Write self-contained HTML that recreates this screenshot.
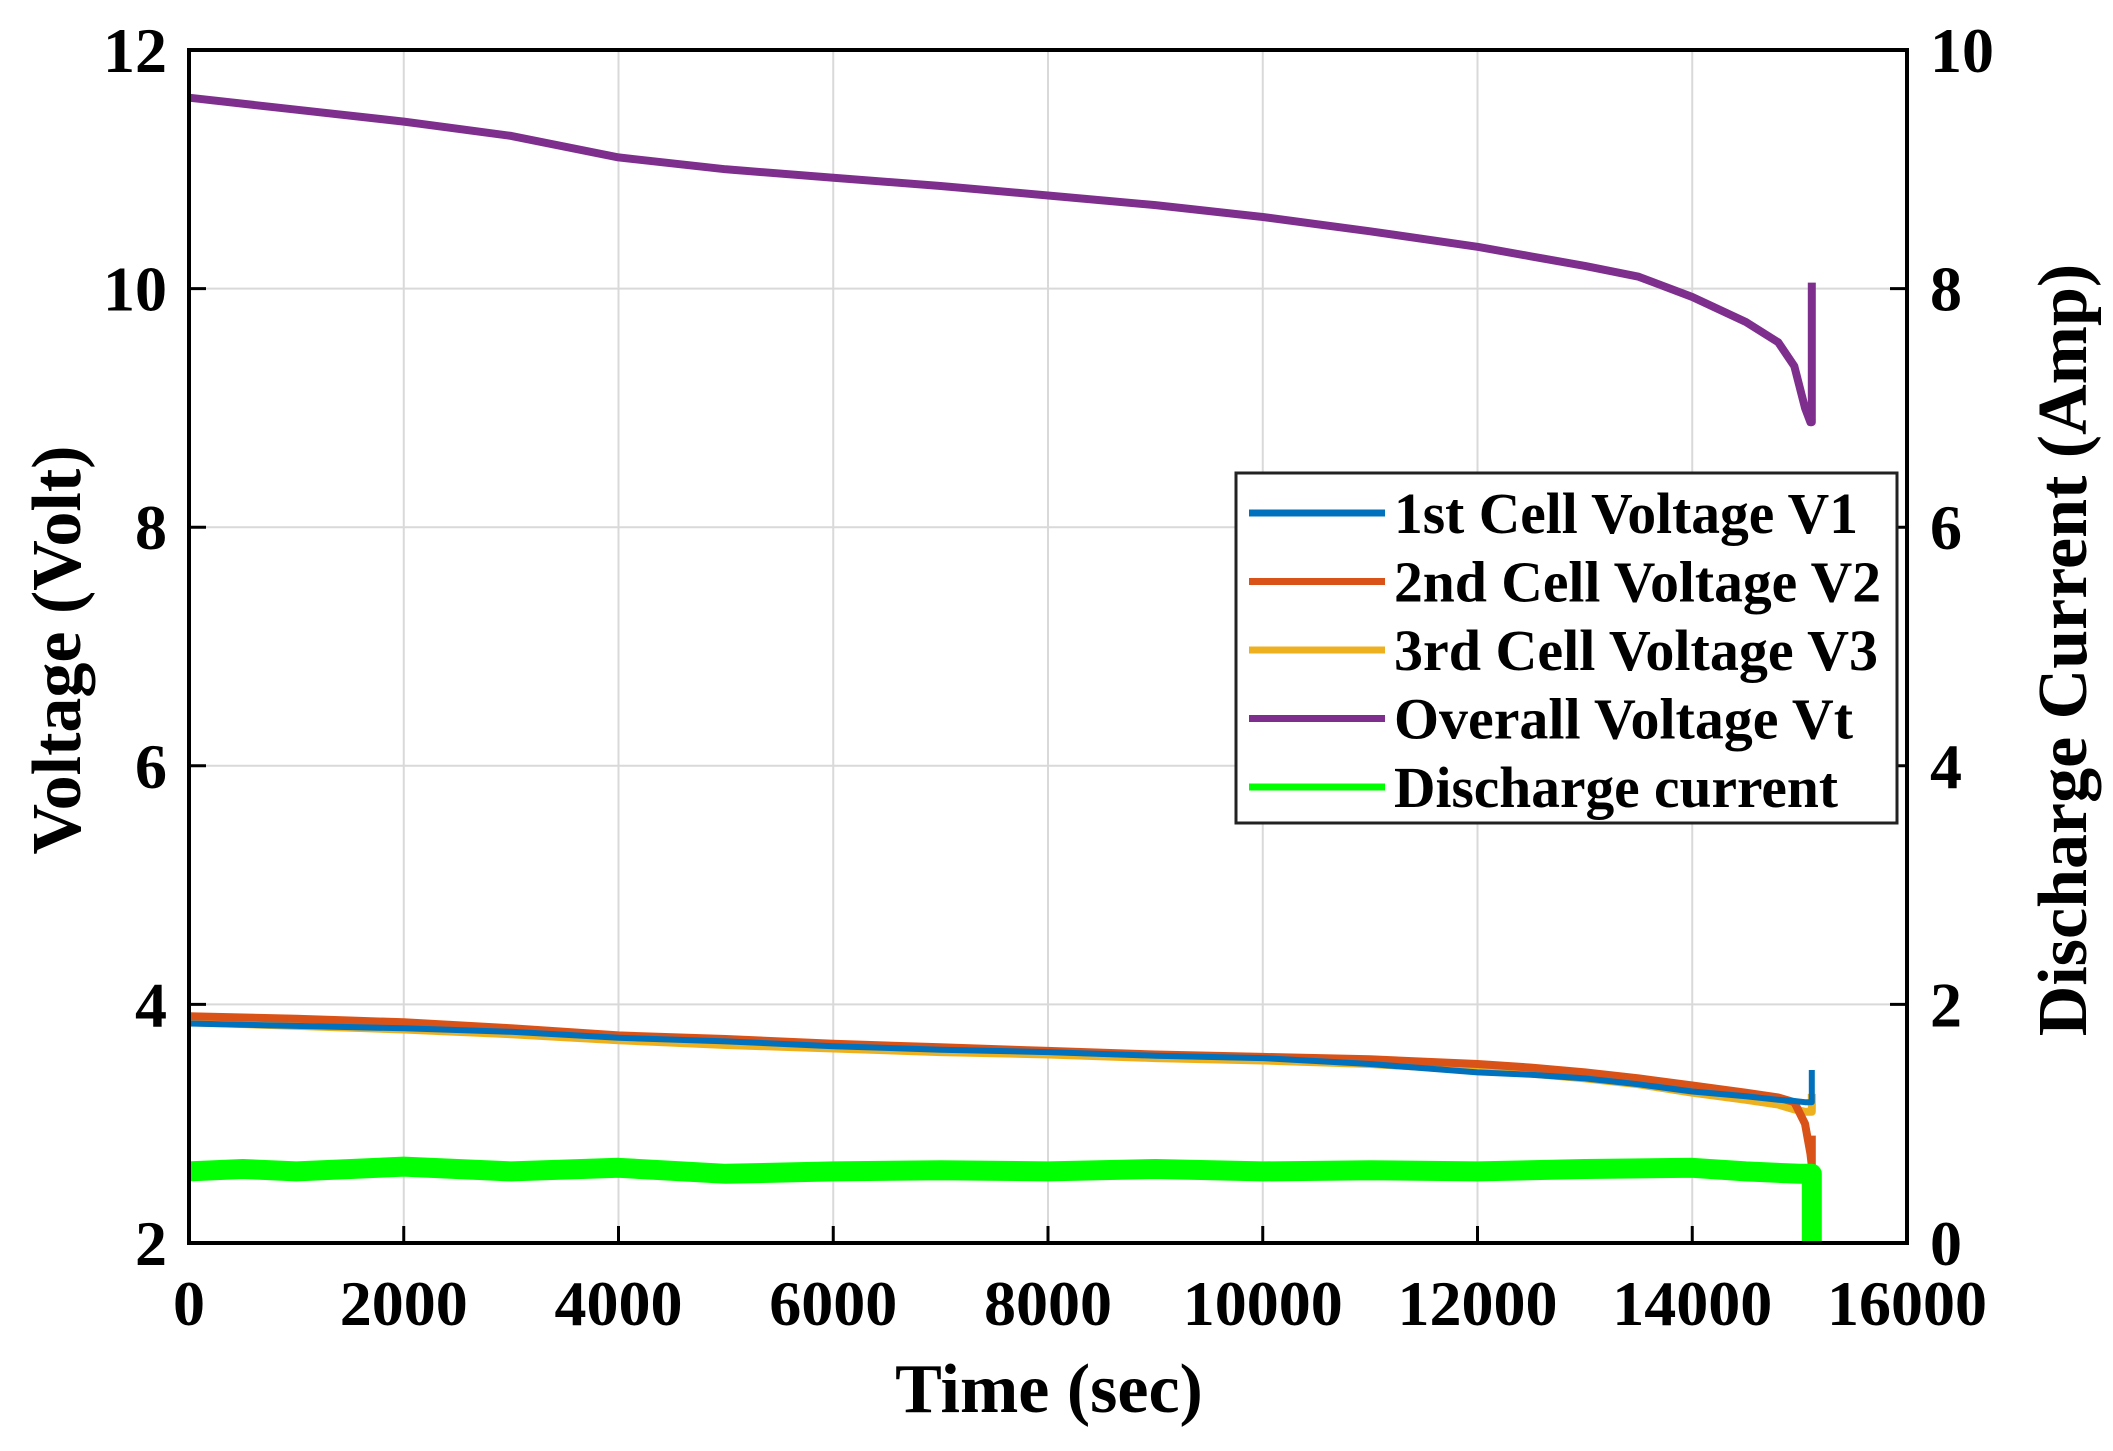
<!DOCTYPE html>
<html><head><meta charset="utf-8"><style>
html,body{margin:0;padding:0;background:#fff;}
svg{display:block;font-family:"Liberation Serif",serif;font-weight:bold;}
</style></head><body>
<svg id="chart" width="2113" height="1451" viewBox="0 0 2113 1451">
<g id="grid"></g>
<g id="series"></g>
<g id="axes"></g>
<text x="1049" y="1412" font-size="70" text-anchor="middle">Time (sec)</text>
<text transform="translate(80,650) rotate(-90)" font-size="70" text-anchor="middle">Voltage (Volt)</text>
<text transform="translate(2086,650) rotate(-90)" font-size="70" text-anchor="middle">Discharge Current (Amp)</text>
<g id="legend"></g>
</svg>
<script>
const xTicks=[0,2000,4000,6000,8000,10000,12000,14000,16000];
const yTicks=[2,4,6,8,10,12];
const y2Ticks=[0,2,4,6,8,10];
const tTime=[0,1000,2000,3000,4000,5000,6000,7000,8000,9000,10000,11000,12000,12500,13000,13500,14000,14500,14800,14950,15050,15100,15113,15113];
const vt=[11.6,11.5,11.4,11.28,11.1,11.0,10.93,10.86,10.78,10.7,10.6,10.48,10.35,10.27,10.19,10.1,9.93,9.72,9.55,9.35,9.0,8.88,8.88,10.05];
const v1=[3.84,3.82,3.8,3.77,3.72,3.69,3.65,3.62,3.6,3.57,3.55,3.5,3.43,3.41,3.38,3.33,3.27,3.23,3.2,3.19,3.18,3.18,3.18,3.45];
const v2=[3.9,3.88,3.85,3.8,3.74,3.71,3.67,3.64,3.61,3.58,3.56,3.54,3.5,3.47,3.43,3.38,3.32,3.26,3.22,3.18,3.0,2.75,2.65,2.9];
const v3=[3.85,3.82,3.79,3.75,3.7,3.66,3.63,3.6,3.58,3.55,3.53,3.5,3.45,3.42,3.38,3.33,3.26,3.2,3.16,3.12,3.1,3.1,3.1,3.25];
const cTime=[0,500,1000,2000,3000,4000,5000,6000,7000,8000,9000,10000,11000,12000,13000,14000,14500,15000,15113,15113];
const cur=[0.6,0.62,0.6,0.64,0.6,0.63,0.58,0.6,0.61,0.6,0.62,0.6,0.61,0.6,0.62,0.63,0.6,0.58,0.58,0];
const L=189,R=1907,T=50,B=1243;
const X=v=>L+(v-0)/16000*(R-L);
const Y=v=>B-(v-2)/10*(B-T);
const Y2=v=>B-v/10*(B-T);
const NS="http://www.w3.org/2000/svg";
function mk(tag,attrs,parent){const e=document.createElementNS(NS,tag);for(const k in attrs)e.setAttribute(k,attrs[k]);parent.appendChild(e);return e;}
const grid=document.getElementById('grid'),axes=document.getElementById('axes'),ser=document.getElementById('series'),leg=document.getElementById('legend');
xTicks.forEach(v=>{const x=X(v);
 const g=mk('line',{x1:x,x2:x,y1:T,y2:B,stroke:'#d9d9d9','stroke-width':2},grid);
 
 const tk=mk('line',{x1:x,x2:x,y1:B,y2:B-17,stroke:'#000','stroke-width':3},axes);
 
 const t=mk('text',{x:x,y:1325,'font-size':64,'text-anchor':'middle'},axes);t.textContent=v;
 });
yTicks.forEach(v=>{const y=Y(v);
 const g=mk('line',{x1:L,x2:R,y1:y,y2:y,stroke:'#d9d9d9','stroke-width':2},grid);
 
 const tk=mk('line',{x1:L,x2:L+17,y1:y,y2:y,stroke:'#000','stroke-width':3},axes);
 
 const t=mk('text',{x:167,y:y+22,'font-size':64,'text-anchor':'end'},axes);t.textContent=v;
 });
y2Ticks.forEach(v=>{const y=Y2(v);
 const tk=mk('line',{x1:R,x2:R-17,y1:y,y2:y,stroke:'#000','stroke-width':3},axes);
 
 const t=mk('text',{x:1930,y:y+22,'font-size':64,'text-anchor':'start'},axes);t.textContent=v;
 });
const box=mk('rect',{x:L,y:T,width:R-L,height:B-T,fill:'none',stroke:'#000','stroke-width':4},axes);

function line(xs,ys,yf,color,w,name){const d=xs.map((t,i)=>(i?'L':'M')+X(t).toFixed(1)+','+yf(ys[i]).toFixed(1)).join(' ');
 const p=mk('path',{d:d,fill:'none',stroke:color,'stroke-width':w,'stroke-linejoin':'round'},ser);
 }
line(tTime,v3,Y,'#EDB120',8,'v3-line');
line(tTime,v2,Y,'#D95319',8,'v2-line');
line(tTime,v1,Y,'#0072BD',6,'v1-line');
line(tTime,vt,Y,'#7E2F8E',8,'vt-line');
line(cTime,cur,Y2,'#00FF00',20,'current-line');
const lb=mk('rect',{x:1236,y:473,width:661,height:350,fill:'#fff',stroke:'#222','stroke-width':3},leg);

const items=[['1st Cell Voltage V1','#0072BD',464],['2nd Cell Voltage V2','#D95319',487],['3rd Cell Voltage V3','#EDB120',484],['Overall Voltage Vt','#7E2F8E',459],['Discharge current','#00FF00',444]];
items.forEach((it,i)=>{const y=513+i*68.5;
 const s=mk('line',{x1:1249,x2:1385,y1:y,y2:y,stroke:it[1],'stroke-width':7},leg);
 
 const t=mk('text',{x:1394,y:y+20,'font-size':58,textLength:it[2],lengthAdjust:'spacingAndGlyphs'},leg);t.textContent=it[0];
 });
</script>
</body></html>
